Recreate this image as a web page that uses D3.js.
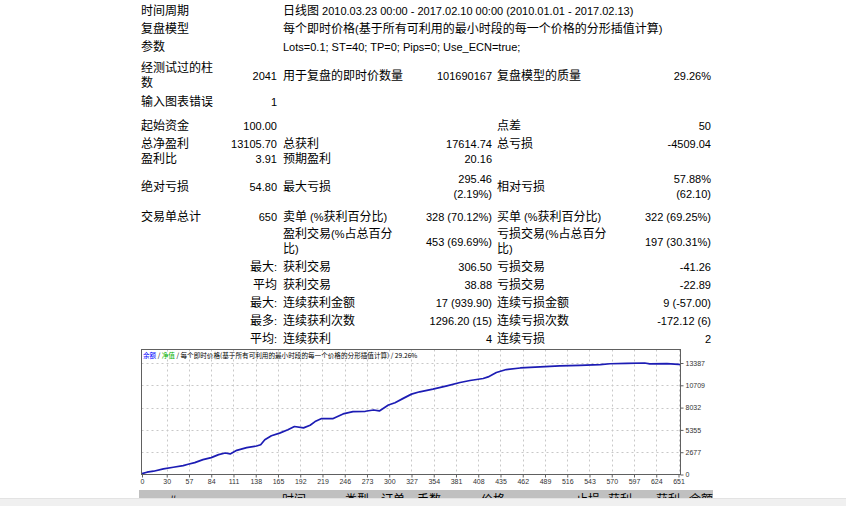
<!DOCTYPE html>
<html><head><meta charset="utf-8">
<script src="https://cdn.jsdelivr.net/npm/d3@7"></script>
<style>
html,body{margin:0;padding:0;background:#fff;overflow:hidden;}
svg{display:block;}
</style></head>
<body>
<svg id="c" width="846" height="506"></svg>
<script>
// ---------- data ----------
const headerLabels = ["时间周期", "复盘模型", "参数"];
const headerTexts = [
  "日线图 2010.03.23 00:00 - 2017.02.10 00:00 (2010.01.01 - 2017.02.13)",
  "每个即时价格(基于所有可利用的最小时段的每一个价格的分形插值计算)",
  "Lots=0.1; ST=40; TP=0; Pips=0; Use_ECN=true;"
];
// stats rows: [col0, col1, col2, col3, col4, col5]; arrays = multi-line cells
const statRows = [
  [["经测试过的柱","数"], "2041", "用于复盘的即时价数量", "101690167", "复盘模型的质量", "29.26%"],
  ["输入图表错误", "1", "", "", "", ""],
  ["起始资金", "100.00", "", "", "点差", "50"],
  ["总净盈利", "13105.70", "总获利", "17614.74", "总亏损", "-4509.04"],
  ["盈利比", "3.91", "预期盈利", "20.16", "", ""],
  ["绝对亏损", "54.80", "最大亏损", ["295.46","(2.19%)"], "相对亏损", ["57.88%","(62.10)"]],
  ["交易单总计", "650", "卖单 (%获利百分比)", "328 (70.12%)", "买单 (%获利百分比)", "322 (69.25%)"],
  ["", "", ["盈利交易(%占总百分","比)"], "453 (69.69%)", ["亏损交易(%占总百分","比)"], "197 (30.31%)"],
  ["", "最大:", "获利交易", "306.50", "亏损交易", "-41.26"],
  ["", "平均", "获利交易", "38.88", "亏损交易", "-22.89"],
  ["", "最大:", "连续获利金额", "17 (939.90)", "连续亏损金额", "9 (-57.00)"],
  ["", "最多:", "连续获利次数", "1296.20 (15)", "连续亏损次数", "-172.12 (6)"],
  ["", "平均:", "连续获利", "4", "连续亏损", "2"]
];
const chartTitle = [
  {t:"余额", c:"#0000ff"}, {t:" / ", c:"#000"}, {t:"净值", c:"#00b000"},
  {t:" / 每个即时价格(基于所有可利用的最小时段的每一个价格的分形插值计算) / 29.26%", c:"#000"}
];
const xTicks = [0,30,57,84,111,138,165,192,219,246,273,300,327,354,381,408,435,462,489,516,543,570,597,624,651];
const yTicks = [0,2677,5355,8032,10709,13387];
const tradeNo = [0,6,14,26,38,50,56,64,74,84,93,101,107,115,127,139,144,149,157,167,177,185,196,204,210,218,232,244,256,271,281,288,299,307,317,327,337,353,370,386,398,414,420,430,442,459,483,507,531,556,568,588,610,616,637,651,653];
const balance = [100,275,395,675,870,1073,1230,1430,1790,2026,2384,2580,2467,2900,3220,3420,3576,4172,4650,4966,5364,5760,5600,5920,6355,6712,6712,7270,7545,7590,7748,7630,8345,8620,9140,9650,9930,10250,10645,11050,11290,11530,11720,12240,12600,12790,12910,13030,13110,13200,13300,13350,13387,13290,13320,13230,13206];
const tableHead = ["#","时间","类型","订单","手数","价格","止损","获利","获利","余额"];

// ---------- layout ----------
const svg = d3.select("#c");
const CJK = /[\u3000-\u9fff\uff00-\uffef]/;
function runs(str){
  const out=[]; let cur="", cj=null;
  for(const ch of str){
    const isC = CJK.test(ch);
    if(cj===null||isC===cj){cur+=ch;cj=isC;}
    else{out.push({t:cur,c:cj});cur=ch;cj=isC;}
  }
  if(cur) out.push({t:cur,c:cj});
  return out;
}
function addText(g, str, x, y, anchor){
  const t = g.append("text").attr("x",x).attr("y",y).attr("text-anchor",anchor||"start").attr("fill","#000");
  t.selectAll("tspan").data(runs(str)).join("tspan")
    .attr("font-family", d=> d.c ? "'Noto Sans CJK SC'" : "'Liberation Sans', Arial, sans-serif")
    .attr("font-size", d=> d.c ? "12px" : "11px")
    .text(d=>d.t);
  return t;
}
const txt = svg.append("g");
const headerY = [10,28,46];
headerLabels.forEach((l,i)=>{ addText(txt,l,141,headerY[i]+4.5); addText(txt,headerTexts[i],283,headerY[i]+4.5); });

const rowY = [75,101,125,143,158,186,216,241,266,284,302,320,338];
const colX = [141,277,283,492,497,711];
const colA = ["start","end","start","end","start","end"];
statRows.forEach((row,ri)=>{
  row.forEach((cell,ci)=>{
    if(!cell) return;
    const lines = Array.isArray(cell)?cell:[cell];
    lines.forEach((ln,li)=>{
      const y = rowY[ri] + (li - (lines.length-1)/2)*15 + 4.5;
      addText(txt, ln, colX[ci], y, colA[ci]);
    });
  });
});

// ---------- chart ----------
const L=141.5, R=680.5, T=349.5, B=474.5;
const x = d3.scaleLinear().domain([0,651]).range([142,678.5]);
const y = d3.scaleLinear().domain([0,13387]).range([B,363]);
const ch = svg.append("g");
ch.append("rect").attr("x",L).attr("y",T).attr("width",R-L).attr("height",B-T).attr("fill","#fff");
// grid
ch.append("g").selectAll("line").data(xTicks.filter(d=>d>0)).join("line")
  .attr("x1",d=>Math.round(x(d))+0.5).attr("x2",d=>Math.round(x(d))+0.5)
  .attr("y1",T).attr("y2",B)
  .attr("stroke","#c8c8c8").attr("stroke-width",1).attr("stroke-dasharray","2,3");
ch.append("g").selectAll("line").data(yTicks.filter(d=>d>0)).join("line")
  .attr("y1",d=>Math.round(y(d))+0.5).attr("y2",d=>Math.round(y(d))+0.5)
  .attr("x1",L).attr("x2",R)
  .attr("stroke","#c8c8c8").attr("stroke-width",1).attr("stroke-dasharray","2,3");
// line
const pts = tradeNo.map((n,i)=>[n,balance[i]]);
ch.append("path").datum(pts)
  .attr("d", d3.line().x(d=>x(d[0])).y(d=>y(d[1])))
  .attr("fill","none").attr("stroke","#1c1cb4").attr("stroke-width",1.7).attr("stroke-linejoin","round");
// border
ch.append("rect").attr("x",L).attr("y",T).attr("width",R-L).attr("height",B-T)
  .attr("fill","none").attr("stroke","#606060").attr("stroke-width",1);
// axes
const xAxis = d3.axisBottom(x).tickValues(xTicks).tickSize(3).tickPadding(2).tickFormat(d3.format("d"));
const gx = ch.append("g").attr("transform",`translate(0,${B})`).call(xAxis);
const yAxis = d3.axisRight(y).tickValues(yTicks).tickSize(3).tickPadding(2).tickFormat(d3.format("d"));
const gy = ch.append("g").attr("transform",`translate(${R},0)`).call(yAxis);
[gx,gy].forEach(g=>{
  g.select(".domain").remove();
  g.selectAll("line").attr("stroke","#606060");
  g.selectAll("text").attr("font-family","'Liberation Sans', Arial, sans-serif").attr("font-size","7px").attr("fill","#333");
});
// title
const tt = ch.append("text").attr("x",143).attr("y",357.5);
tt.selectAll("tspan").data(chartTitle).join("tspan")
  .attr("fill",d=>d.c).attr("font-family","'Noto Sans CJK SC'").attr("font-size","6.6px").text(d=>d.t);

// ---------- table header (cut) ----------
const hx = [173,294,357,393,429,493,588,620,668,701];
svg.append("rect").attr("x",139).attr("y",490).attr("width",574).attr("height",16).attr("fill","#c0c0c0");
svg.append("g").selectAll("text").data(tableHead).join("text")
  .attr("x",(d,i)=>hx[i]).attr("y",504).attr("text-anchor","middle")
  .attr("font-family","'Noto Sans CJK SC'").attr("font-size","12px").attr("fill","#000").text(d=>d);
svg.append("rect").attr("x",0).attr("y",499).attr("width",846).attr("height",7).attr("fill","#f0f0f0");
svg.append("line").attr("x1",0).attr("x2",846).attr("y1",498.5).attr("y2",498.5).attr("stroke","#e3e3e3");
</script>
</body></html>
